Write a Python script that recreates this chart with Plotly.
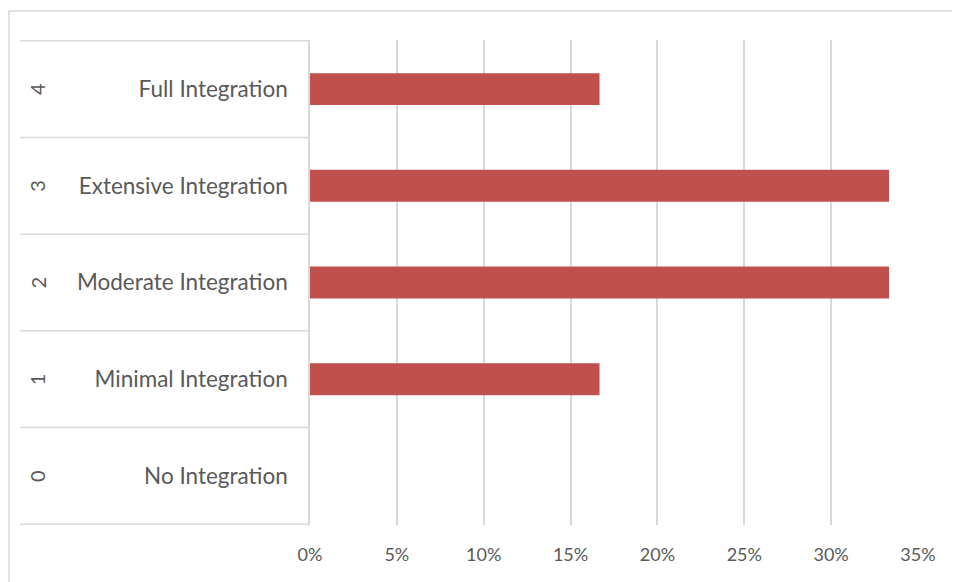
import plotly.graph_objects as go

levels = ["0", "1", "2", "3", "4"]
labels = ["No Integration", "Minimal Integration", "Moderate Integration",
          "Extensive Integration", "Full Integration"]
shares = [0.0, 1/6, 1/3, 1/3, 1/6]
x_ticks = [0, 0.05, 0.10, 0.15, 0.20, 0.25, 0.30, 0.35]
x_tick_labels = ["0%", "5%", "10%", "15%", "20%", "25%", "30%", "35%"]

OFF = 8  # browser body margin
W, H = 960 - OFF, 582 - OFF
ML, MR, MT, MB = 310 - OFF, 42, 40 - OFF, 57
plot_w = W - ML - MR
plot_h = H - MT - MB

font = "Lato"
grey_txt = "#595959"
grid = "#d9d9d9"

fig = go.Figure(go.Bar(
    x=shares, y=levels, orientation="h",
    marker=dict(color="#c0504d", line=dict(width=0)),
    hoverinfo="skip",
))

shapes = []
x_left = -(310 - 20) / plot_w
for i in range(len(levels) + 1):
    shapes.append(dict(type="line", xref="paper", yref="y",
                       x0=x_left, x1=0, y0=i - 0.5, y1=i - 0.5,
                       line=dict(color=grid, width=1.5)))
shapes.append(dict(type="rect", xref="paper", yref="paper",
                   x0=-(ML - 1) / plot_w, x1=(plot_w + MR + 40) / plot_w,
                   y0=-(MB + 40) / plot_h, y1=1 + (40 - 11) / plot_h,
                   line=dict(color=grid, width=1.5), fillcolor="rgba(0,0,0,0)",
                   layer="below"))

annotations = []
for lv in levels:
    annotations.append(dict(x=-(310 - 37) / plot_w, xref="paper", y=lv, yref="y",
                            xanchor="center", yanchor="middle",
                            text=lv, showarrow=False, textangle=-90,
                            font=dict(family=font, size=20, color=grey_txt)))

fig.update_layout(
    width=W, height=H,
    margin=dict(l=ML, r=MR, t=MT, b=MB),
    paper_bgcolor="white", plot_bgcolor="white",
    bargap=0.67,
    showlegend=False,
    shapes=shapes,
    annotations=annotations,
    xaxis=dict(range=[0, 0.35], tickvals=x_ticks, ticktext=x_tick_labels,
               showgrid=True, gridcolor=grid, gridwidth=1.5,
               zeroline=False, showline=False, ticks="",
               ticklabelstandoff=17,
               tickfont=dict(family=font, size=18, color=grey_txt)),
    yaxis=dict(type="category", categoryorder="array", categoryarray=levels,
               tickvals=levels, ticktext=labels,
               showgrid=False, zeroline=False,
               showline=True, linecolor=grid, linewidth=1.5,
               ticks="", ticklabelstandoff=16,
               tickfont=dict(family=font, size=22.5, color=grey_txt)),
)

fig.write_html("out.html")
